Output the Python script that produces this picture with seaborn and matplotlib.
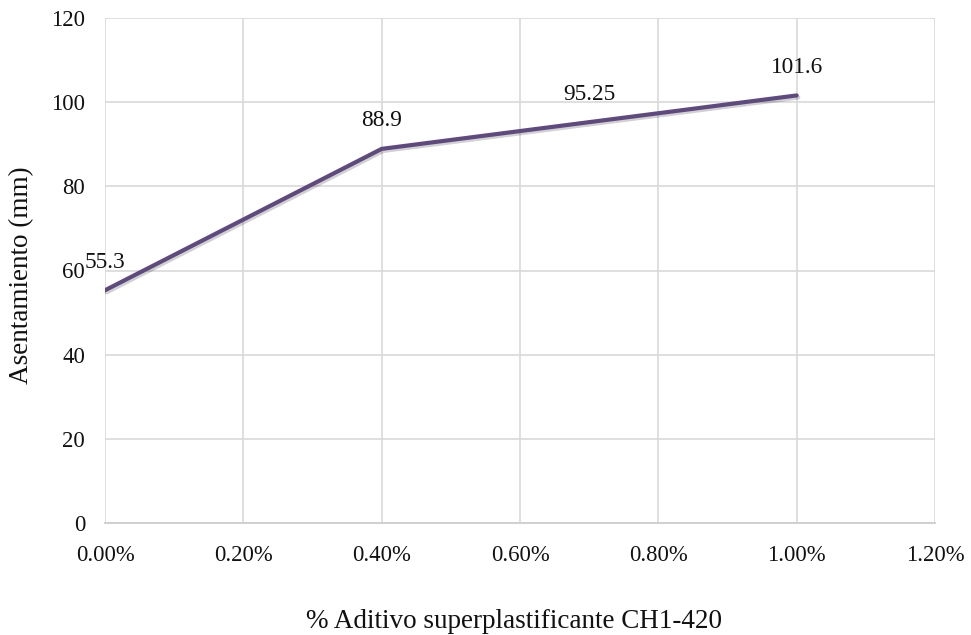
import matplotlib
matplotlib.use("Agg")
import matplotlib.pyplot as plt
import matplotlib.patheffects as pe
import seaborn as sns
import pandas as pd

x_pct = [0.0, 0.4, 0.7, 1.0]
slump = [55.3, 88.9, 95.25, 101.6]
labels = ["55.3", "88.9", "95.25", "101.6"]
xticks = [0.0, 0.2, 0.4, 0.6, 0.8, 1.0, 1.2]
yticks = [0, 20, 40, 60, 80, 100, 120]

sns.set_theme(style="white")
plt.rcParams['font.family'] = ['Liberation Serif', 'DejaVu Serif']

W, H = 971, 635
L, R, T, B = 105, 935, 18, 523

df = pd.DataFrame({"x": x_pct, "y": slump})
fig = plt.figure(figsize=(W/100, H/100), dpi=100)
ax = fig.add_axes([L/W, 1-B/H, (R-L)/W, (B-T)/H])

sns.lineplot(data=df, x="x", y="y", ax=ax, color="#5F4A80", linewidth=3.0,
             solid_capstyle="round", zorder=5,
             path_effects=[pe.SimpleLineShadow(offset=(1.2, -1.5), alpha=0.18, shadow_color="black"),
                           pe.Normal()])

for xi, yi, lab in zip(x_pct, slump, labels):
    ax.annotate(lab, (xi, yi), xytext=(0, 16.3), textcoords="offset points",
                ha="center", va="baseline", fontsize=16.8, color="#111111", zorder=6)

ax.set_xlim(0, 1.2)
ax.set_ylim(0, 120)
ax.set_xticks(xticks)
ax.set_xticklabels([f"{v:.2f}%" for v in xticks])
ax.set_yticks(yticks)
ax.grid(True, color="#D9D9D9", linewidth=1.2)
for s in ["top", "right", "left"]:
    ax.spines[s].set_visible(False)
ax.spines["bottom"].set_color("#D0D0D0")
ax.spines["bottom"].set_linewidth(1.4)
ax.tick_params(axis="x", labelsize=16.4, colors="#111111", length=0, pad=16)
ax.tick_params(axis="y", labelsize=16.4, colors="#111111", length=0, pad=14.4)

ax.set_xlabel("% Aditivo superplastificante CH1-420", fontsize=19.5, color="#111111", va="baseline")
ax.xaxis.set_label_coords((514 - L)/(R - L), -(628 - B)/(B - T))
ax.set_ylabel("Asentamiento (mm)", fontsize=19.5, color="#111111", va="center")
ax.yaxis.set_label_coords(-(L - 22)/(R - L), 0.49)

fig.savefig("out.png", dpi=100)
